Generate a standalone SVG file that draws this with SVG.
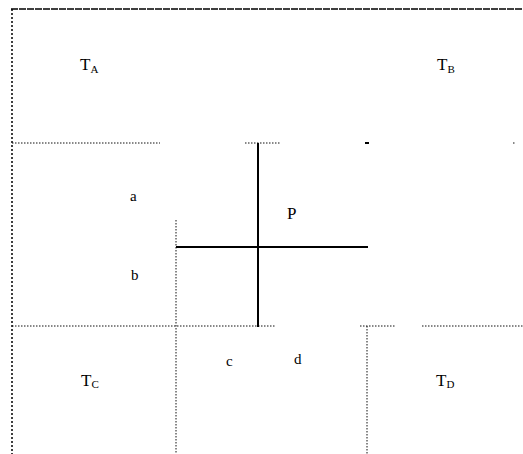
<svg xmlns="http://www.w3.org/2000/svg" width="523" height="454" viewBox="0 0 523 454">
<style>
.dot{stroke:#111;stroke-width:1;stroke-dasharray:1.5 1.5;fill:none}
.dotb{stroke:#000;stroke-width:1.5;stroke-dasharray:2 2;fill:none}
.top{stroke:#000;stroke-width:1.4;stroke-dasharray:7 1;fill:none}
.solid{stroke:#000;stroke-width:2;fill:none}
.lbl{font-family:"Liberation Serif",serif;fill:#000}
.big{font-size:17px}
.sub{font-size:11px}
.small{font-size:15px}
</style>
<rect width="523" height="454" fill="#fff"/>
<g id="connectors">
<line class="top" x1="11" y1="9" x2="523" y2="9"/>
<line class="dotb" x1="12" y1="9" x2="12" y2="454"/>
<line class="dot" x1="12" y1="143" x2="160" y2="143"/>
<line class="dot" x1="245" y1="143" x2="280" y2="143"/>
<line class="solid" x1="365" y1="143" x2="369" y2="143"/>
<line class="dot" x1="513" y1="143" x2="516" y2="143"/>
<line class="dot" x1="12" y1="326" x2="275" y2="326"/>
<line class="dot" x1="360" y1="326" x2="395" y2="326"/>
<line class="dot" x1="422" y1="326" x2="523" y2="326"/>
<line class="dot" x1="176" y1="220" x2="176" y2="454"/>
<line class="dot" x1="367" y1="326" x2="367" y2="454"/>
<line class="solid" x1="258" y1="143" x2="258" y2="327"/>
<line class="solid" x1="176" y1="247" x2="368" y2="247"/>
</g>
<g id="TA"><text class="lbl big" x="80" y="70">T<tspan class="sub" dy="3">A</tspan></text></g>
<g id="TB"><text class="lbl big" x="437" y="70">T<tspan class="sub" dy="3">B</tspan></text></g>
<g id="TC"><text class="lbl big" x="81" y="386">T<tspan class="sub" dy="2">C</tspan></text></g>
<g id="TD"><text class="lbl big" x="436" y="386">T<tspan class="sub" dy="2">D</tspan></text></g>
<g id="a"><text class="lbl small" x="130" y="201">a</text></g>
<g id="b"><text class="lbl small" x="131" y="280">b</text></g>
<g id="P"><text class="lbl big" x="287" y="219">P</text></g>
<g id="c"><text class="lbl small" x="226" y="366">c</text></g>
<g id="d"><text class="lbl small" x="294" y="364">d</text></g>
</svg>
